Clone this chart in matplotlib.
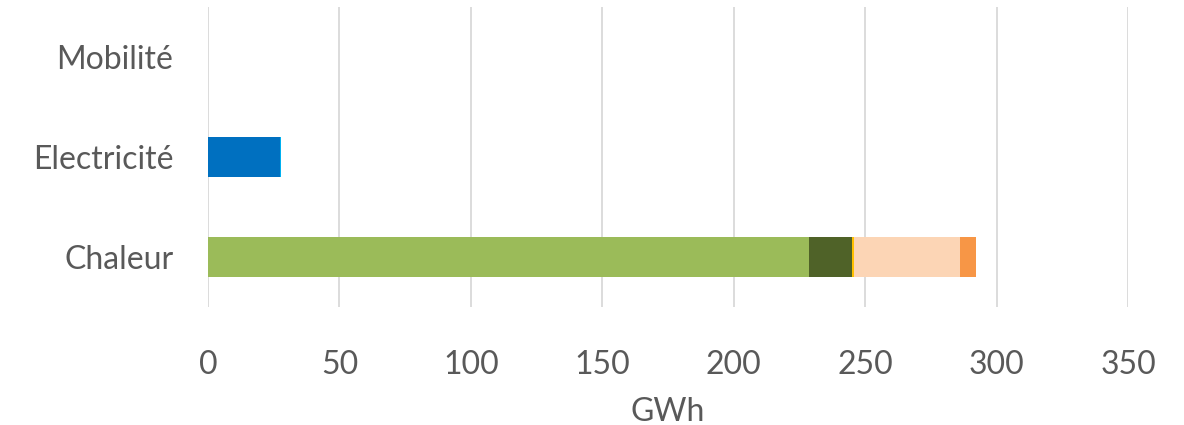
import matplotlib.pyplot as plt

categories = ["Chaleur", "Electricité", "Mobilité"]

# stacked segments per category (GWh)
series_names = ["Bois", "Bois 2", "Solaire", "PAC", "Autre", "PV", "Hydro"]
series_values = [
    [228.5, 0.0, 0.0],
    [16.4, 0.0, 0.0],
    [0.7, 0.0, 0.0],
    [40.4, 0.0, 0.0],
    [6.1, 0.0, 0.0],
    [0.0, 27.4, 0.0],
    [0.0, 0.4, 0.0],
]
series_colors = ["#9BBB59", "#4F6228", "#FFC000", "#FCD5B5", "#F79646", "#0070C0", "#00B0F0"]

x_ticks = [0, 50, 100, 150, 200, 250, 300, 350]

plt.rcParams["font.family"] = ["Lato", "DejaVu Sans"]
text_color = "#595959"

fig = plt.figure(figsize=(11.84, 4.25), dpi=100)
ax = fig.add_axes([208 / 1184, 1 - 307 / 425, (1128 - 208) / 1184, 300 / 425])

left = [0.0] * len(categories)
for name, values, color in zip(series_names, series_values, series_colors):
    ax.barh(range(len(categories)), values, height=0.4, left=left, color=color, label=name)
    left = [a + b for a, b in zip(left, values)]

ax.set_xlim(0, 350)
ax.set_ylim(-0.5, len(categories) - 0.5)
ax.set_xticks(x_ticks)
ax.set_yticks(range(len(categories)))
ax.set_yticklabels(categories)
ax.grid(axis="x", color="#D9D9D9", linewidth=1.3)
ax.set_axisbelow(True)
for spine in ax.spines.values():
    spine.set_visible(False)
ax.tick_params(axis="both", length=0, labelsize=23, colors=text_color)
ax.tick_params(axis="x", pad=31)
ax.tick_params(axis="y", pad=25)
ax.set_xlabel("GWh", fontsize=23, color=text_color, labelpad=12)

plt.savefig("out.png", dpi=100)
